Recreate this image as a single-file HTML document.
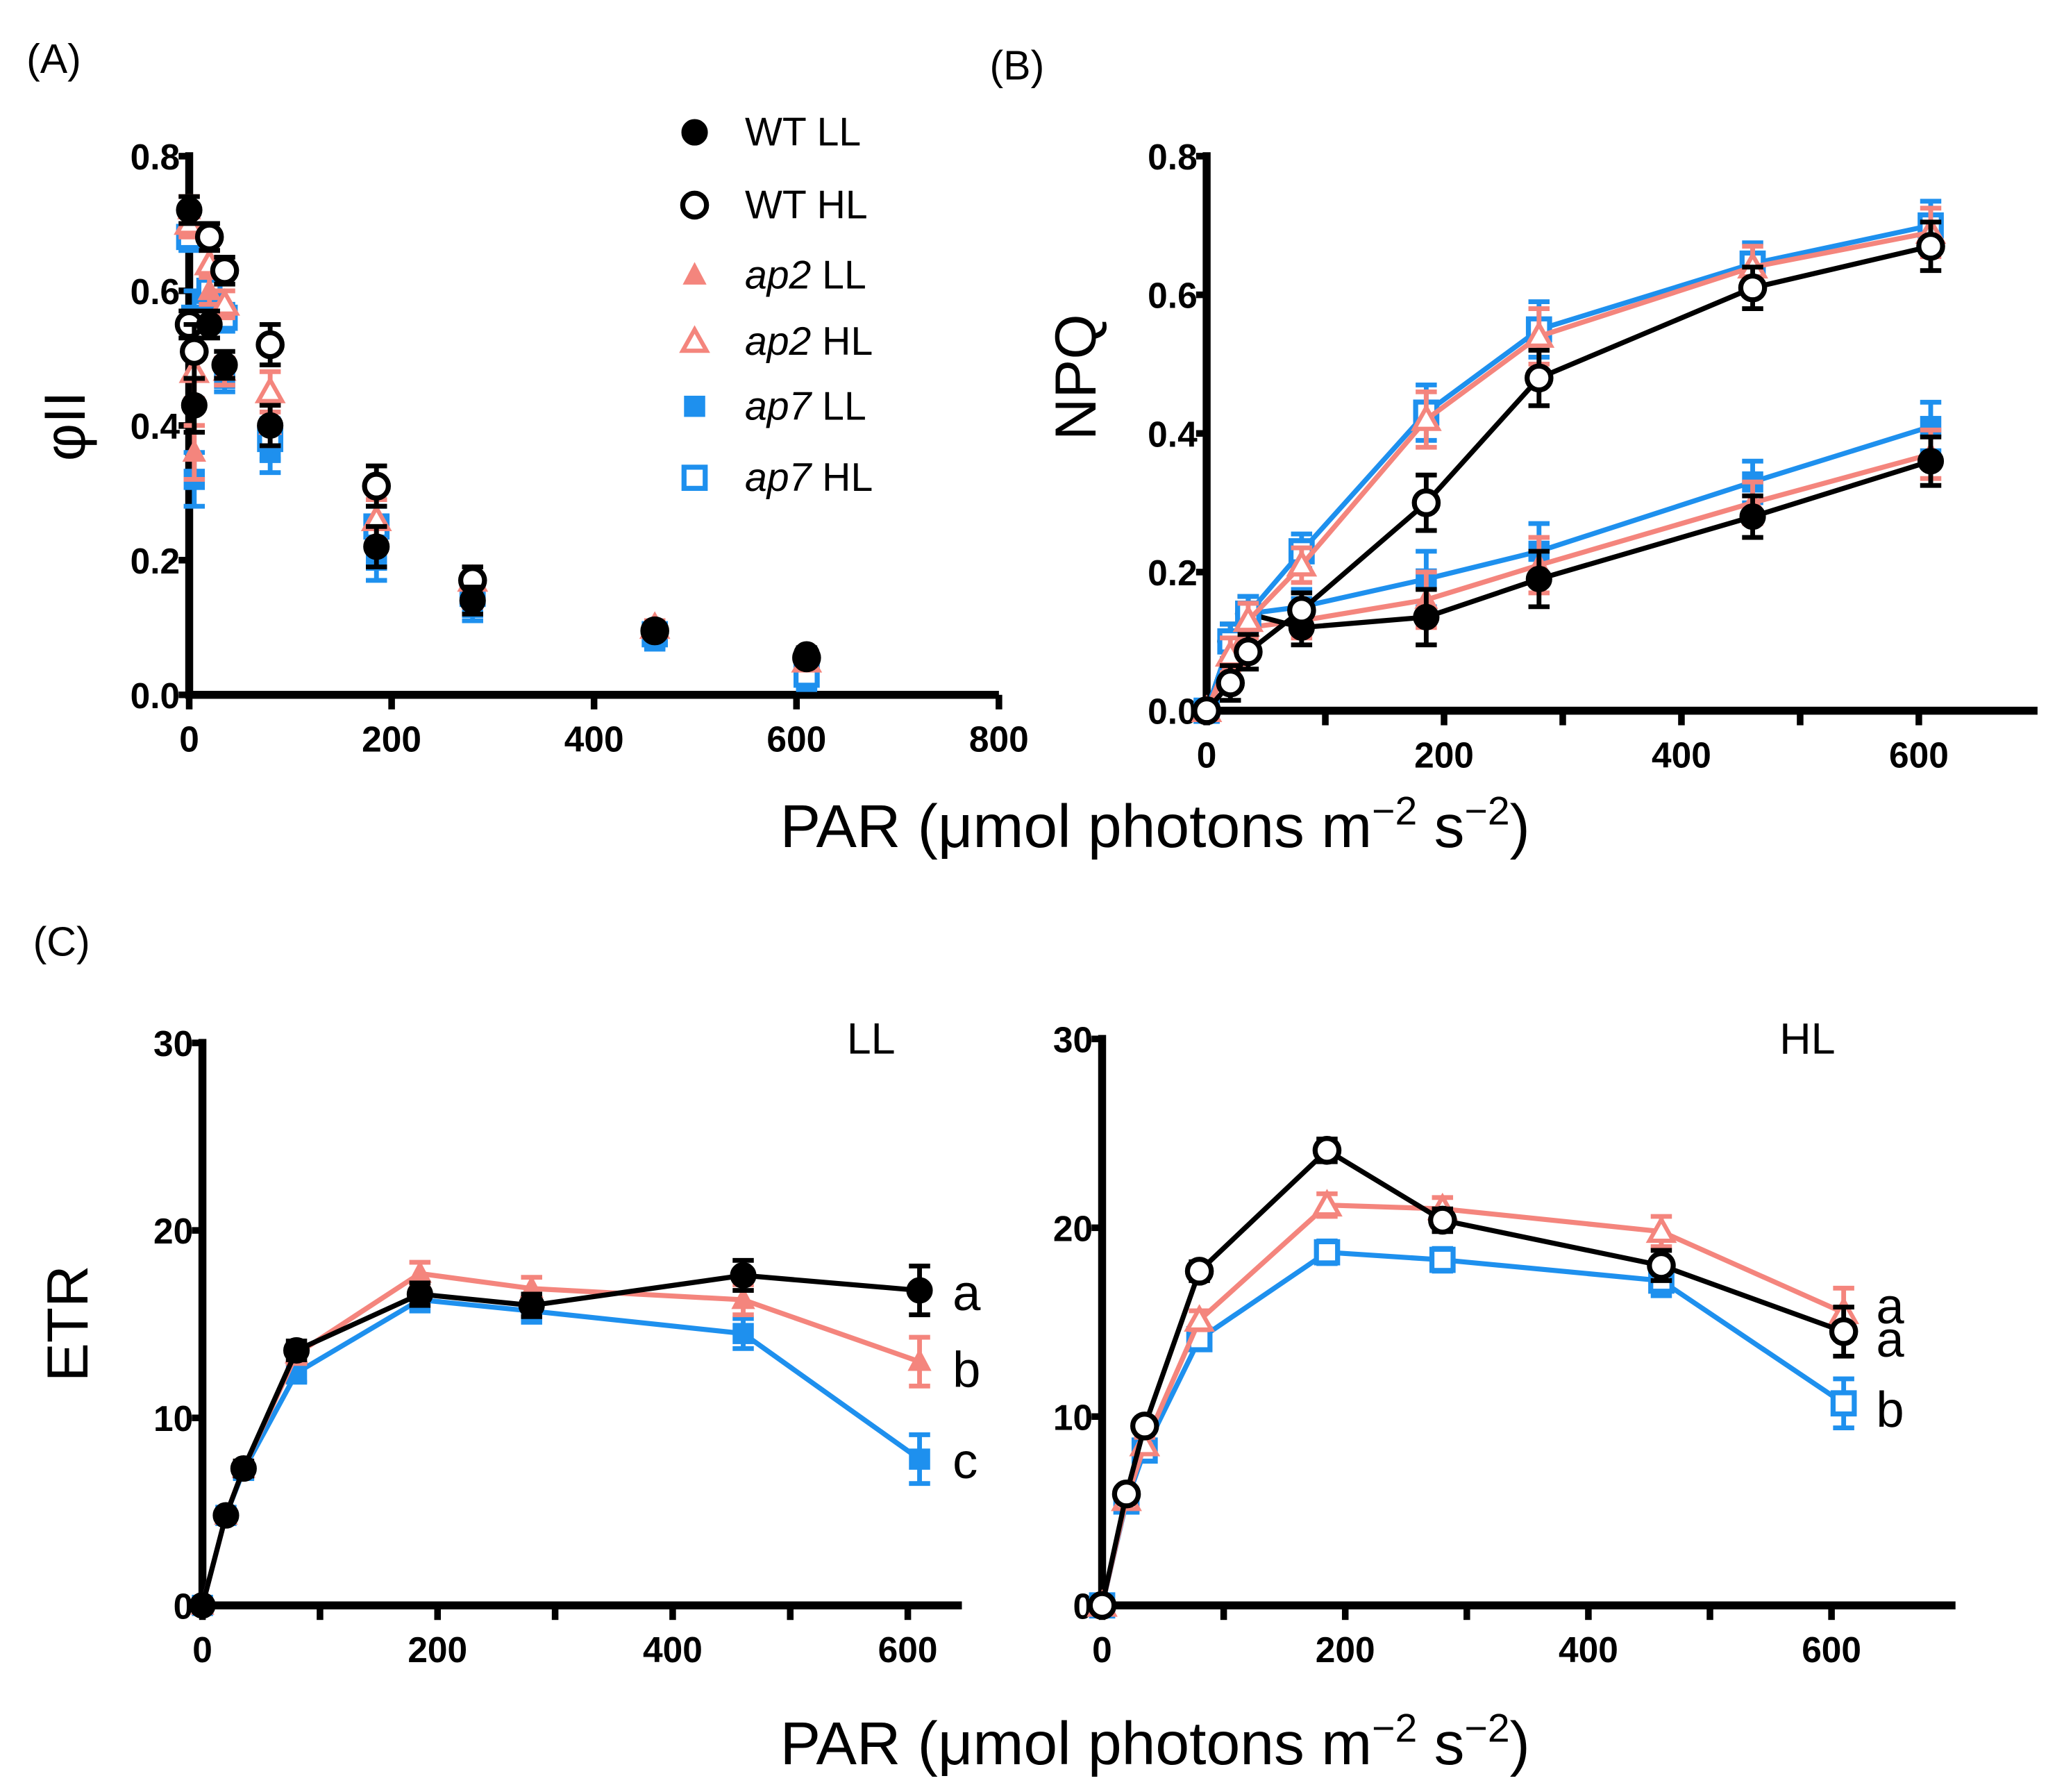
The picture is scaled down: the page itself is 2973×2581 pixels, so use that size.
<!DOCTYPE html>
<html><head><meta charset="utf-8"><style>
html,body{margin:0;padding:0;background:#fff}
svg{display:block}
text{font-family:"Liberation Sans",Arial,sans-serif}
.tk{font-weight:bold;font-size:27px}
</style></head><body>
<svg id="fig" xmlns="http://www.w3.org/2000/svg" width="2973" height="2581" viewBox="0 0 1560 1354" preserveAspectRatio="none">
<text x="20" y="55" font-size="31">(A)</text>
<text x="748" y="60" font-size="31">(B)</text>
<text x="25" y="722" font-size="31">(C)</text>
<text x="873" y="640" font-size="46" text-anchor="middle">PAR (μmol photons m<tspan dy="-17" font-size="30">−2</tspan><tspan dy="17"> s</tspan><tspan dy="-17" font-size="30">−2</tspan><tspan dy="17">)</tspan></text>
<text x="873" y="1333" font-size="46" text-anchor="middle">PAR (μmol photons m<tspan dy="-17" font-size="30">−2</tspan><tspan dy="17"> s</tspan><tspan dy="-17" font-size="30">−2</tspan><tspan dy="17">)</tspan></text>
<text transform="translate(64,322) rotate(-90)" font-size="44" text-anchor="middle">φII</text>
<text transform="translate(828,285) rotate(-90)" font-size="44" text-anchor="middle">NPQ</text>
<text transform="translate(66,1000) rotate(-90)" font-size="44" text-anchor="middle">ETR</text>
<text x="640" y="796" font-size="33">LL</text>
<text x="1345" y="796" font-size="33">HL</text>
<g id="g"></g>
</svg>
<script>
// ---- data ----
const parA = [0, 5, 20, 35, 80, 185, 280, 460, 610];
const phiWTLL = [0.72, 0.43, 0.55, 0.49, 0.40, 0.22, 0.14, 0.095, 0.06];
const phiWTHL = [0.55, 0.51, 0.68, 0.63, 0.52, 0.31, 0.17, 0.095, 0.055];
const phiAp2LL = [0.72, 0.36, 0.60, 0.48, 0.40, 0.26, 0.15, 0.10, 0.05];
const phiAp2HL = [0.70, 0.48, 0.64, 0.58, 0.45, 0.26, 0.17, 0.10, 0.05];
const phiAp7LL = [0.68, 0.32, 0.56, 0.47, 0.36, 0.20, 0.13, 0.08, 0.02];
const phiAp7HL = [0.68, 0.56, 0.60, 0.56, 0.38, 0.25, 0.15, 0.09, 0.03];
const phiErr = [0.02, 0.04, 0.02, 0.02, 0.03, 0.03, 0.02, 0.01, 0.01];

const par = [0, 20, 35, 80, 185, 280, 460, 610];
const npqWTLL = [0, 0.10, 0.14, 0.12, 0.135, 0.19, 0.28, 0.36];
const npqWTHL = [0, 0.04, 0.085, 0.145, 0.30, 0.48, 0.61, 0.67];
const npqAp2LL = [0, 0.07, 0.12, 0.13, 0.16, 0.21, 0.30, 0.37];
const npqAp2HL = [0, 0.08, 0.13, 0.21, 0.42, 0.54, 0.64, 0.69];
const npqAp7LL = [0, 0.10, 0.14, 0.15, 0.19, 0.23, 0.33, 0.41];
const npqAp7HL = [0, 0.10, 0.14, 0.23, 0.43, 0.55, 0.645, 0.70];
const npqErr = [0.01, 0.025, 0.025, 0.025, 0.04, 0.04, 0.03, 0.035];

const etrWTLL = [0, 4.8, 7.3, 13.6, 16.6, 16.0, 17.6, 16.8];
const etrAp2LL = [0, 4.8, 7.3, 13.4, 17.7, 16.9, 16.3, 13.0];
const etrAp7LL = [0, 4.8, 7.2, 12.4, 16.3, 15.7, 14.5, 7.8];
const etrWTHL = [0, 5.9, 9.5, 17.7, 24.1, 20.4, 18.0, 14.5];
const etrAp2HL = [0, 5.6, 8.5, 15.1, 21.2, 21.0, 19.8, 15.5];
const etrAp7HL = [0, 5.5, 8.2, 14.1, 18.7, 18.3, 17.2, 10.7];
const etrErr = [0.3, 0.3, 0.4, 0.5, 0.6, 0.6, 0.8, 1.3];

const ticksA = ["0.0","0.2","0.4","0.6","0.8"];
const ticksETR = ["0","10","20","30"];
const xTicksA = ["0","200","400","600","800"];
const xTicksB = ["0","200","400","600"];

const BLK="#000", PNK="#f4857d", BLU="#1e90ee";
const NS="http://www.w3.org/2000/svg";
const G=document.getElementById('g');
function mk(tag,attrs,parent){const e=document.createElementNS(NS,tag);for(const k in attrs)e.setAttribute(k,attrs[k]);(parent||G).appendChild(e);return e;}

function axes(name,x0,y0,x1,y1,xmax,xTicks,xStep,minor,ymax,yTicks,yStep){
  const sx=v=>x0+(v)/xmax*(x1-x0);
  const sy=v=>y0-(v)/ymax*(y0-y1);
  const g=mk('g',{});
  
  
  const ax=mk('path',{d:`M${x0},${y1-3}V${y0}H${x1}`,fill:'none',stroke:'#000','stroke-width':6},g);
  
  
  xTicks.forEach((t,i)=>{const v=i*xStep,x=sx(v);
    mk('line',{x1:x,x2:x,y1:y0,y2:y0+11,stroke:'#000','stroke-width':5},g);
    const tx=mk('text',{x:x,y:y0+43,'text-anchor':'middle',class:'tk'},g);tx.textContent=t;
    
    
    if(minor){const m=sx(v+xStep/2);if(m<x1-5)mk('line',{x1:m,x2:m,y1:y0,y2:y0+11,stroke:'#000','stroke-width':5},g);}
  });
  yTicks.forEach((t,i)=>{const v=i*yStep,y=sy(v);
    mk('line',{x1:x0-8,x2:x0,y1:y,y2:y,stroke:'#000','stroke-width':5},g);
    const tx=mk('text',{x:x0-7,y:y+10,'text-anchor':'end',class:'tk'},g);tx.textContent=t;
    
    
  });
  return {sx,sy};
}
function marker(type,col,x,y,parent){
  const r=9;
  if(type==='circle') return mk('circle',{cx:x,cy:y,r:r,fill:col,stroke:col,'stroke-width':2},parent);
  if(type==='ocircle') return mk('circle',{cx:x,cy:y,r:r,fill:'#fff',stroke:col,'stroke-width':3.8},parent);
  if(type==='tri') return mk('path',{d:`M${x},${y-10}L${x+9},${y+7}L${x-9},${y+7}Z`,fill:col},parent);
  if(type==='otri') return mk('path',{d:`M${x},${y-9}L${x+9},${y+7}L${x-9},${y+7}Z`,fill:'#fff',stroke:col,'stroke-width':3.2},parent);
  if(type==='sq') return mk('rect',{x:x-8,y:y-8,width:16,height:16,fill:col},parent);
  if(type==='osq') return mk('rect',{x:x-8,y:y-8,width:16,height:16,fill:'#fff',stroke:col,'stroke-width':3.8},parent);
}
function series(name,sc,xs,ys,err,col,type,line){
  const g=mk('g',{});
  
  
  if(line){const d=xs.map((v,i)=>(i?'L':'M')+sc.sx(v)+','+sc.sy(ys[i])).join('');
    mk('path',{d:d,fill:'none',stroke:col,'stroke-width':3.8},g);}
  xs.forEach((v,i)=>{const x=sc.sx(v),y=sc.sy(ys[i]),e=err[i];
    const yt=sc.sy(ys[i]+e),yb=sc.sy(Math.max(0,ys[i]-e));
    mk('path',{d:`M${x},${yt}V${yb}M${x-8},${yt}H${x+8}M${x-8},${yb}H${x+8}`,stroke:col,'stroke-width':3.6,fill:'none'},g);
    const m=marker(type,col,x,y,g);
    
    
  });
}
// Panel A
const A=axes('phi-ii',143,525,755,118,800,xTicksA,200,false,0.8,ticksA,0.2);
series('phi-ap7-ll',A,parA,phiAp7LL,phiErr,BLU,'sq',false);
series('phi-ap7-hl',A,parA,phiAp7HL,phiErr,BLU,'osq',false);
series('phi-ap2-ll',A,parA,phiAp2LL,phiErr,PNK,'tri',false);
series('phi-ap2-hl',A,parA,phiAp2HL,phiErr,PNK,'otri',false);
series('phi-wt-hl',A,parA,phiWTHL,phiErr,BLK,'ocircle',false);
series('phi-wt-ll',A,parA,phiWTLL,phiErr,BLK,'circle',false);
// legend
const leg=[['circle',BLK,'WT',' LL'],['ocircle',BLK,'WT',' HL'],['tri',PNK,'ap2',' LL'],['otri',PNK,'ap2',' HL'],['sq',BLU,'ap7',' LL'],['osq',BLU,'ap7',' HL']];
const legY=[100,155,208,258,307,361];
leg.forEach((l,i)=>{const g=mk('g',{});
  
  
  marker(l[0],l[1],525,legY[i],g);
  const t=mk('text',{x:563,y:legY[i]+10,'font-size':30},g);
  if(l[2]==='WT'){t.textContent='WT'+l[3];}
  else{const a=mk('tspan',{'font-style':'italic'},t);a.textContent=l[2];const b=mk('tspan',{},t);b.textContent=l[3];}
});
// Panel B
const B=axes('npq',912,537,1540,118,700,xTicksB,200,true,0.8,ticksA,0.2);
series('npq-ap7-ll',B,par,npqAp7LL,npqErr,BLU,'sq',true);
series('npq-ap2-ll',B,par,npqAp2LL,npqErr,PNK,'tri',true);
series('npq-wt-ll',B,par,npqWTLL,npqErr,BLK,'circle',true);
series('npq-ap7-hl',B,par,npqAp7HL,npqErr,BLU,'osq',true);
series('npq-ap2-hl',B,par,npqAp2HL,npqErr,PNK,'otri',true);
series('npq-wt-hl',B,par,npqWTHL,npqErr,BLK,'ocircle',true);
// Panel C left
const CL=axes('etr-ll',153,1213,727,788,646,xTicksB,200,true,30,ticksETR,10);
series('etr-ap7-ll',CL,par,etrAp7LL,etrErr,BLU,'sq',true);
series('etr-ap2-ll',CL,par,etrAp2LL,etrErr,PNK,'tri',true);
series('etr-wt-ll',CL,par,etrWTLL,etrErr,BLK,'circle',true);
// Panel C right
const CR=axes('etr-hl',833,1213,1478,785,702,xTicksB,200,true,30,ticksETR,10);
series('etr-ap7-hl',CR,par,etrAp7HL,etrErr,BLU,'osq',true);
series('etr-ap2-hl',CR,par,etrAp2HL,etrErr,PNK,'otri',true);
series('etr-wt-hl',CR,par,etrWTHL,etrErr,BLK,'ocircle',true);
// significance letters
[['a',720,990],['b',720,1048],['c',720,1117],['a',1418,1000],['a',1418,1025],['b',1418,1078]].forEach(s=>{
  const t=mk('text',{x:s[1],y:s[2],'font-size':38});t.textContent=s[0];
  
  
});
</script>
</body></html>
